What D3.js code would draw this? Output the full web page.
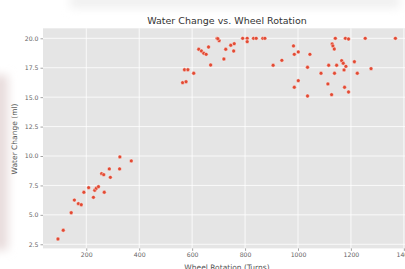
<!DOCTYPE html>
<html>
<head>
<meta charset="utf-8">
<script src="https://cdn.jsdelivr.net/npm/d3@7"></script>
<style>
  body { margin: 0; background: #fff; }
  svg { display: block; font-family: 'DejaVu Sans', sans-serif; }
</style>
</head>
<body>
<div id="chart"></div>
<script>
'use strict'

// wheel rotation (turns)
var turns = [
  93, 113, 143, 155, 170, 181, 191, 209, 227, 232, 238, 246, 268, 258, 266, 287, 291, 327, 326, 370,
  564, 577, 571, 584, 606, 625, 635, 644, 653, 662, 670, 694, 702, 697, 727, 720, 746, 759, 757,
  791, 808, 808, 832, 842, 867, 875, 906, 939, 983, 986, 986, 1001, 1001, 1045, 1036, 1036,
  1087, 1113, 1116, 1127, 1129, 1132, 1137, 1141, 1138, 1146, 1165, 1171, 1174, 1176, 1179,
  1181, 1191, 1191, 1213, 1224, 1254, 1276, 1368
];

// water change (ml)
var water = [
  2.95, 3.69, 5.18, 6.26, 5.95, 5.86, 6.92, 7.31, 6.49, 7.09, 7.26, 7.39, 6.92, 8.5, 8.41, 8.9, 8.19, 9.92, 8.9, 9.58,
  16.23, 16.31, 17.33, 17.33, 17.03, 19.07, 18.92, 18.73, 18.64, 19.26, 17.73, 20.0, 19.8, 19.97, 19.07, 18.24, 19.41, 19.54, 18.92,
  20.0, 20.0, 19.71, 20.0, 20.0, 20.0, 20.0, 17.71, 18.13, 19.35, 18.64, 15.84, 18.84, 16.4, 18.64, 17.54, 15.1,
  17.03, 16.12, 17.71, 15.21, 19.52, 19.35, 19.09, 20.0, 17.03, 17.71, 18.1, 17.88, 17.31, 15.84, 20.0,
  17.62, 19.94, 15.44, 18.01, 17.03, 20.0, 17.42, 20.0
];

var xTicks = [200, 400, 600, 800, 1000, 1200, 1400];
var yTicks = [2.5, 5.0, 7.5, 10.0, 12.5, 15.0, 17.5, 20.0];

var width = 405, height = 269;
var plot = { left: 43, right: 412.6, top: 28.3, bottom: 248.4 };

var svg = d3.select('#chart').append('svg')
  .attr('width', width)
  .attr('height', height);

// faint blurred backdrop
var defs = svg.append('defs');
defs.append('filter').attr('id', 'soft')
  .attr('filterUnits', 'userSpaceOnUse')
  .attr('x', -60).attr('y', -60).attr('width', 525).attr('height', 389)
  .append('feGaussianBlur').attr('stdDeviation', 5);
svg.append('rect').attr('x', -10).attr('y', 75).attr('width', 18).attr('height', 175)
  .attr('fill', '#e8dcdc').attr('filter', 'url(#soft)');
svg.append('rect').attr('x', 70).attr('y', -6).attr('width', 330).attr('height', 14)
  .attr('fill', '#f0f0f0').attr('filter', 'url(#soft)');

var x = d3.scaleLinear()
  .domain([36.5, 1433])
  .range([plot.left, plot.right]);

var y = d3.scaleLinear()
  .domain([2.15, 20.85])
  .range([plot.bottom, plot.top]);

svg.append('rect')
  .attr('x', plot.left)
  .attr('y', plot.top)
  .attr('width', plot.right - plot.left)
  .attr('height', plot.bottom - plot.top)
  .attr('fill', '#e5e5e5');

// grid
svg.append('g').selectAll('line')
  .data(xTicks)
  .enter().append('line')
  .attr('x1', function(d) { return x(d); })
  .attr('x2', function(d) { return x(d); })
  .attr('y1', plot.top)
  .attr('y2', plot.bottom)
  .attr('stroke', '#fff')
  .attr('stroke-width', 0.8);

svg.append('g').selectAll('line')
  .data(yTicks)
  .enter().append('line')
  .attr('x1', plot.left)
  .attr('x2', plot.right)
  .attr('y1', function(d) { return y(d); })
  .attr('y2', function(d) { return y(d); })
  .attr('stroke', '#fff')
  .attr('stroke-width', 0.8);

// axes
var xAxis = d3.axisBottom(x).tickValues(xTicks).tickSize(2.5).tickPadding(2)
  .tickFormat(d3.format('d'));
var yAxis = d3.axisLeft(y).tickValues(yTicks).tickSize(2.5).tickPadding(2)
  .tickFormat(d3.format('.1f'));

var gx = svg.append('g')
  .attr('transform', 'translate(0,' + plot.bottom + ')')
  .call(xAxis);
var gy = svg.append('g')
  .attr('transform', 'translate(' + plot.left + ',0)')
  .call(yAxis);

[gx, gy].forEach(function(g) {
  g.select('.domain').remove();
  g.selectAll('.tick line').attr('stroke', '#666').attr('stroke-width', 0.6);
  g.selectAll('.tick text')
    .attr('fill', '#666')
    .style('font-size', '6.2px')
    .style('font-family', 'DejaVu Sans, sans-serif');
});

// points
svg.append('g').selectAll('circle')
  .data(turns)
  .enter().append('circle')
  .attr('cx', function(d) { return x(d); })
  .attr('cy', function(d, i) { return y(water[i]); })
  .attr('r', 1.9)
  .attr('fill', '#e24a33')
  .attr('stroke', '#fff')
  .attr('stroke-width', 0.4);

// titles
svg.append('text')
  .attr('x', 227)
  .attr('y', 24)
  .attr('text-anchor', 'middle')
  .attr('fill', '#333')
  .style('font-size', '9.5px')
  .text('Water Change vs. Wheel Rotation');

svg.append('text')
  .attr('x', 227)
  .attr('y', 270)
  .attr('text-anchor', 'middle')
  .attr('fill', '#555')
  .style('font-size', '7.5px')
  .text('Wheel Rotation (Turns)');

svg.append('text')
  .attr('text-anchor', 'middle')
  .attr('transform', 'translate(16.5,139) rotate(-90)')
  .attr('fill', '#555')
  .style('font-size', '7.5px')
  .text('Water Change (ml)');
</script>
</body>
</html>
